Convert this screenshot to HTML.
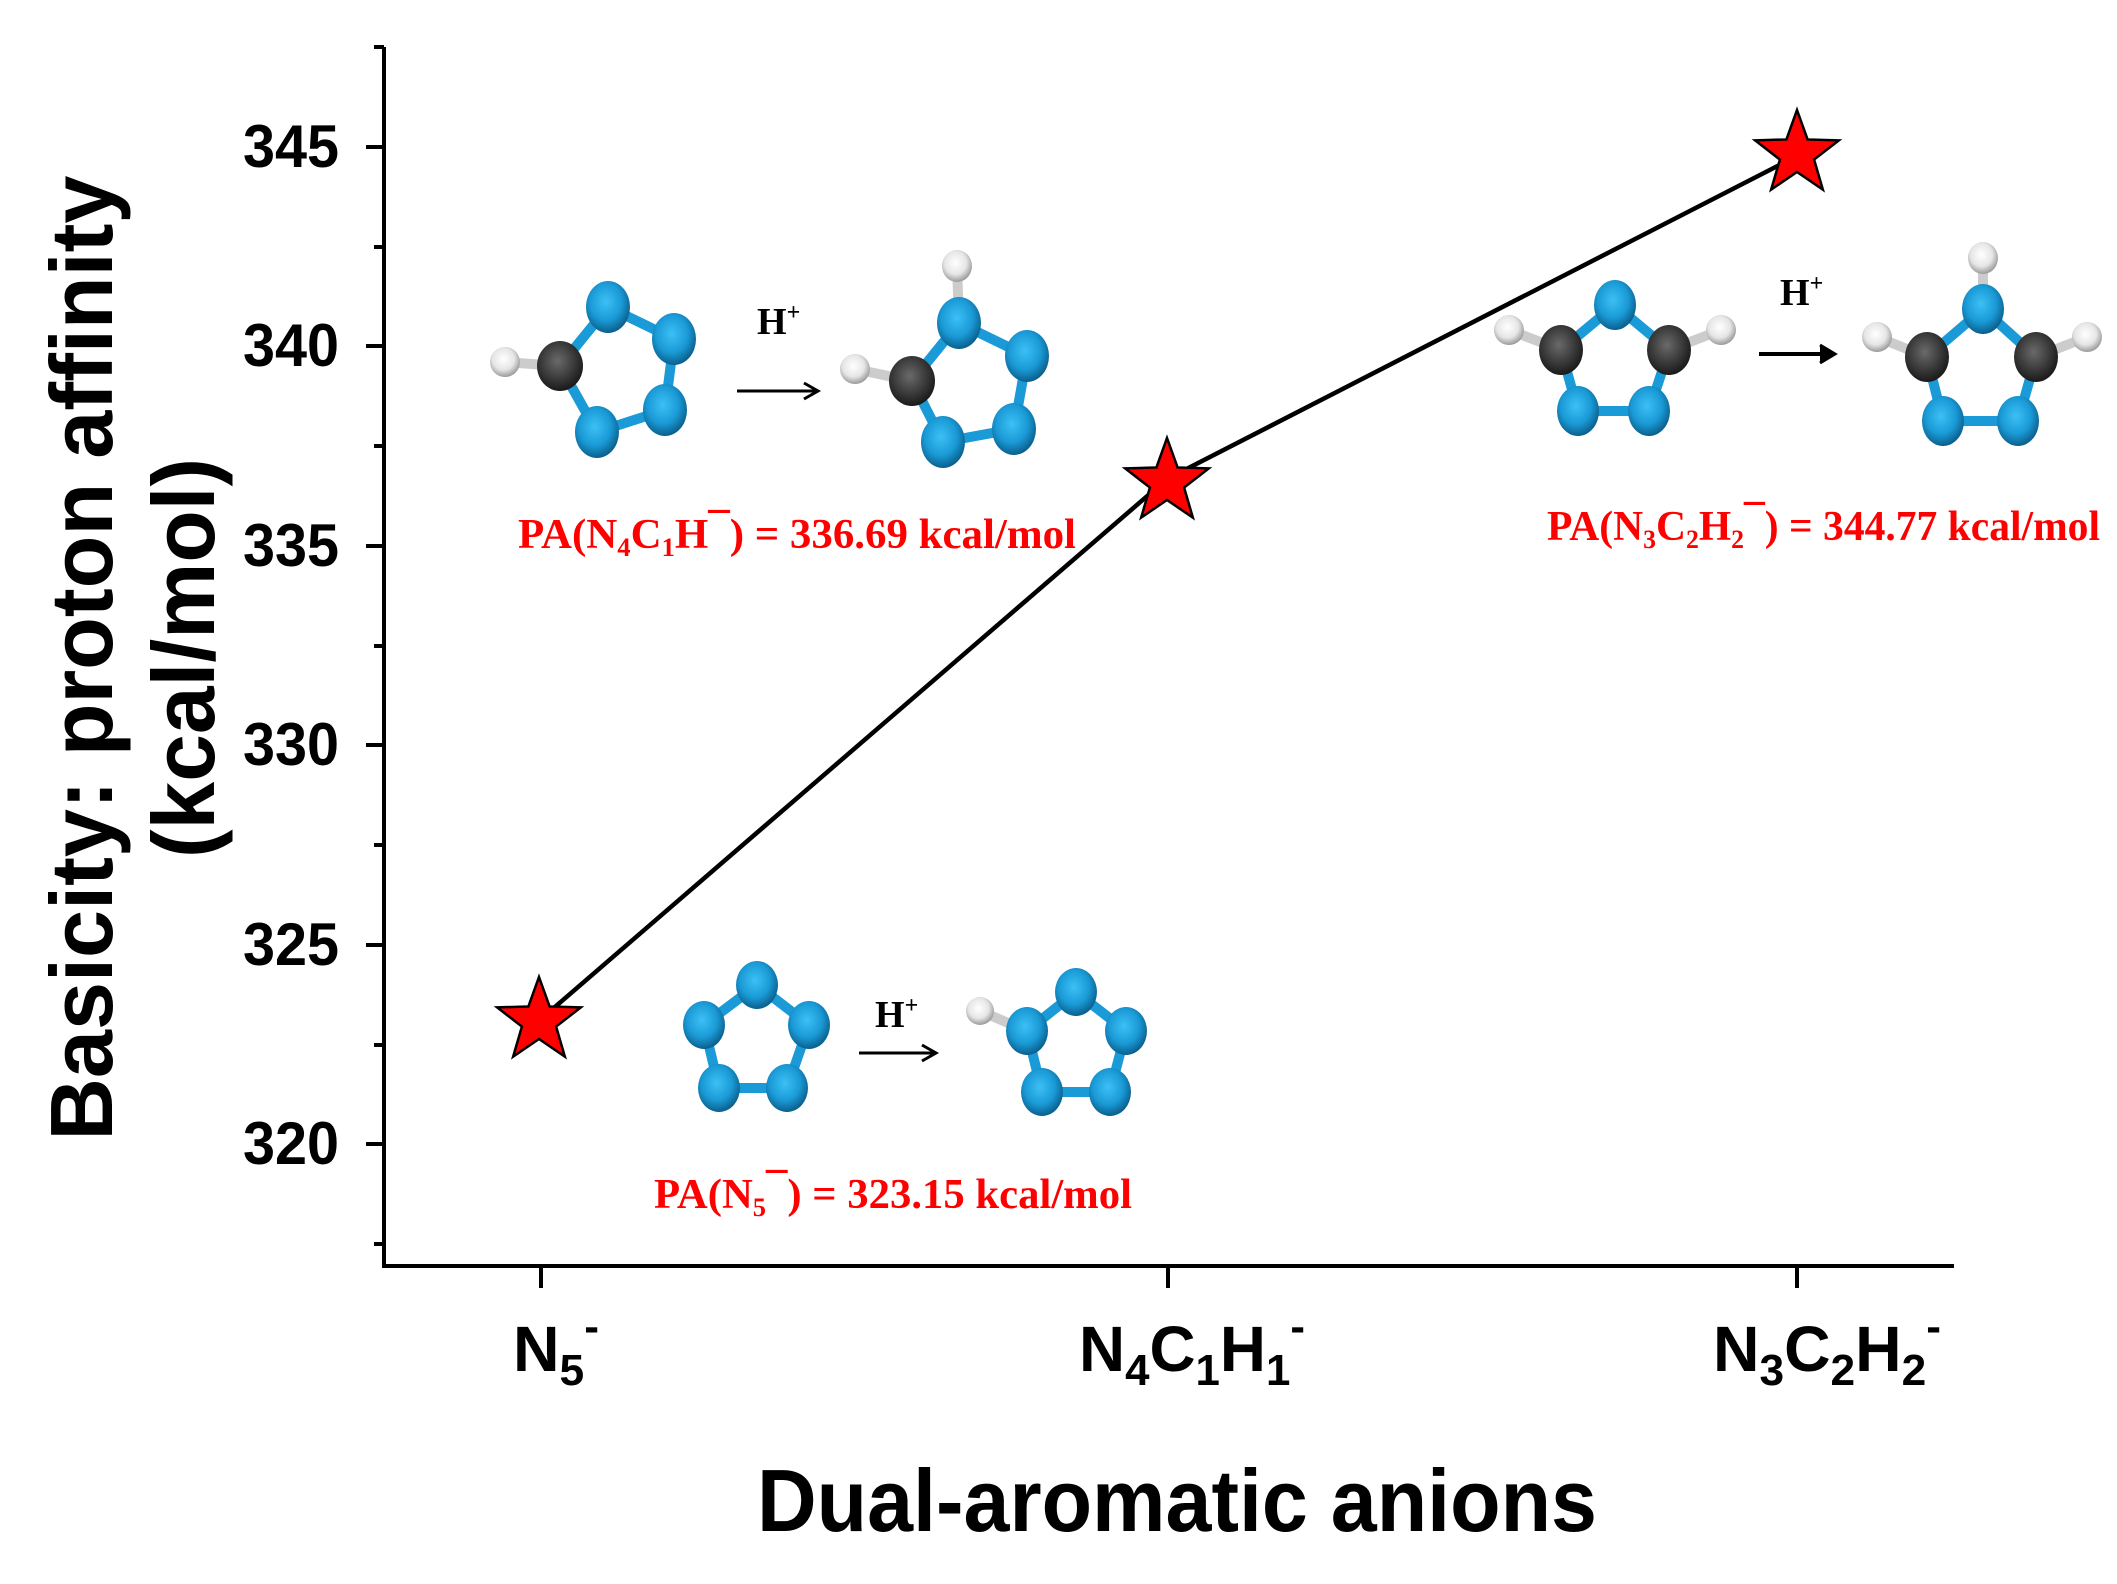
<!DOCTYPE html>
<html><head><meta charset="utf-8"><style>
html,body{margin:0;padding:0;background:#fff;}
svg{display:block;}
</style></head><body>
<svg width="2117" height="1584" viewBox="0 0 2117 1584" xmlns="http://www.w3.org/2000/svg">
<defs>
<radialGradient id="gN" cx="0.45" cy="0.4" r="0.6"><stop offset="0" stop-color="#3cc0f5"/><stop offset="0.6" stop-color="#1a9ad6"/><stop offset="1" stop-color="#0b5f8c"/></radialGradient>
<radialGradient id="gC" cx="0.45" cy="0.4" r="0.6"><stop offset="0" stop-color="#6a6a6a"/><stop offset="0.6" stop-color="#3a3a3a"/><stop offset="1" stop-color="#1a1a1a"/></radialGradient>
<radialGradient id="gH" cx="0.45" cy="0.4" r="0.6"><stop offset="0" stop-color="#ffffff"/><stop offset="0.6" stop-color="#e6e6e6"/><stop offset="1" stop-color="#9a9a9a"/></radialGradient>
<path id="star" d="M0,-44 L10.58,-14.56 L41.85,-13.6 L17.12,5.56 L25.86,35.6 L0,18 L-25.86,35.6 L-17.12,5.56 L-41.85,-13.6 L-10.58,-14.56 Z" fill="#ff0000" stroke="#000" stroke-width="2.5"/>
</defs>

<g stroke="#000" stroke-width="4" fill="none">
<line x1="384" y1="47" x2="384" y2="1268"/>
<line x1="382" y1="1266" x2="1954" y2="1266"/>
<line x1="366" y1="147" x2="384" y2="147"/>
<line x1="366" y1="346" x2="384" y2="346"/>
<line x1="366" y1="546" x2="384" y2="546"/>
<line x1="366" y1="745" x2="384" y2="745"/>
<line x1="366" y1="945" x2="384" y2="945"/>
<line x1="366" y1="1144" x2="384" y2="1144"/>
<line x1="374" y1="247" x2="384" y2="247"/>
<line x1="374" y1="446" x2="384" y2="446"/>
<line x1="374" y1="646" x2="384" y2="646"/>
<line x1="374" y1="845" x2="384" y2="845"/>
<line x1="374" y1="1045" x2="384" y2="1045"/>
<line x1="374" y1="1244" x2="384" y2="1244"/>
<line x1="374" y1="47" x2="384" y2="47"/>
<line x1="541" y1="1266" x2="541" y2="1288"/>
<line x1="1168" y1="1266" x2="1168" y2="1288"/>
<line x1="1797" y1="1266" x2="1797" y2="1288"/>
</g>

<g font-family="Liberation Sans, sans-serif" font-weight="bold" font-size="60" text-anchor="end" fill="#000">
<text x="339" y="167" textLength="96" lengthAdjust="spacingAndGlyphs">345</text>
<text x="339" y="366" textLength="96" lengthAdjust="spacingAndGlyphs">340</text>
<text x="339" y="566" textLength="96" lengthAdjust="spacingAndGlyphs">335</text>
<text x="339" y="765" textLength="96" lengthAdjust="spacingAndGlyphs">330</text>
<text x="339" y="965" textLength="96" lengthAdjust="spacingAndGlyphs">325</text>
<text x="339" y="1164" textLength="96" lengthAdjust="spacingAndGlyphs">320</text>
</g>

<g font-family="Liberation Sans, sans-serif" font-weight="bold" fill="#000" text-anchor="middle">
<text transform="translate(112,658) rotate(-90)" font-size="88" textLength="965" lengthAdjust="spacingAndGlyphs">Basicity: proton affinity</text>
<text transform="translate(214,658) rotate(-90)" font-size="88" textLength="400" lengthAdjust="spacingAndGlyphs">(kcal/mol)</text>
<text x="1177" y="1531" font-size="88" textLength="840" lengthAdjust="spacingAndGlyphs">Dual-aromatic anions</text>
</g>

<g font-family="Liberation Sans, sans-serif" font-weight="bold" fill="#000" font-size="64">
<text x="513" y="1371" textLength="86" lengthAdjust="spacingAndGlyphs">N<tspan font-size="44" dy="14">5</tspan><tspan font-size="44" dy="-44">-</tspan></text>
<text x="1079" y="1371" textLength="226" lengthAdjust="spacingAndGlyphs">N<tspan font-size="44" dy="14">4</tspan><tspan dy="-14">C</tspan><tspan font-size="44" dy="14">1</tspan><tspan dy="-14">H</tspan><tspan font-size="44" dy="14">1</tspan><tspan font-size="44" dy="-44">-</tspan></text>
<text x="1713" y="1371" textLength="228" lengthAdjust="spacingAndGlyphs">N<tspan font-size="44" dy="14">3</tspan><tspan dy="-14">C</tspan><tspan font-size="44" dy="14">2</tspan><tspan dy="-14">H</tspan><tspan font-size="44" dy="14">2</tspan><tspan font-size="44" dy="-44">-</tspan></text>
</g>

<polyline points="541,1019 1167,479 1797,156" fill="none" stroke="#000" stroke-width="4.5"/>
<use href="#star" x="539" y="1021"/>
<use href="#star" x="1167" y="482"/>
<use href="#star" x="1797" y="154"/>

<g font-family="Liberation Serif, serif" font-weight="bold" fill="#ff0000" font-size="42">
<text x="518" y="548" textLength="558" lengthAdjust="spacingAndGlyphs">PA(N<tspan font-size="26" dy="8">4</tspan><tspan dy="-8">C</tspan><tspan font-size="26" dy="8">1</tspan><tspan dy="-8">H</tspan><tspan dy="-6">¯</tspan><tspan dy="6">) = 336.69 kcal/mol</tspan></text>
<text x="1547" y="540" textLength="553" lengthAdjust="spacingAndGlyphs">PA(N<tspan font-size="26" dy="8">3</tspan><tspan dy="-8">C</tspan><tspan font-size="26" dy="8">2</tspan><tspan dy="-8">H</tspan><tspan font-size="26" dy="8">2</tspan><tspan dy="-14">¯</tspan><tspan dy="6">) = 344.77 kcal/mol</tspan></text>
<text x="654" y="1208" textLength="478" lengthAdjust="spacingAndGlyphs">PA(N<tspan font-size="26" dy="8">5</tspan><tspan dy="-14">¯</tspan><tspan dy="6">) = 323.15 kcal/mol</tspan></text>
</g>

<g font-family="Liberation Serif, serif" font-weight="bold" fill="#000" font-size="38">
<text x="757" y="334">H<tspan font-size="24" dy="-14">+</tspan></text>
<text x="1780" y="305">H<tspan font-size="24" dy="-14">+</tspan></text>
<text x="875" y="1027">H<tspan font-size="24" dy="-14">+</tspan></text>
</g>
<g stroke="#000" stroke-width="3" fill="none">
<line x1="737" y1="391" x2="816" y2="391"/><path d="M804,383 L818,391 L804,399"/>
<line x1="1759" y1="354" x2="1833" y2="354" stroke-width="4"/><path d="M1820,345 L1835,354 L1820,363" fill="#000"/>
<line x1="859" y1="1053" x2="934" y2="1053"/><path d="M922,1045 L936,1053 L922,1061"/>
</g>

<g stroke-width="10" stroke-linecap="round">
<line x1="505" y1="362" x2="560" y2="366" stroke="#ccc"/>
<line x1="560" y1="366" x2="608" y2="307" stroke="#1a9ad6"/>
<line x1="608" y1="307" x2="674" y2="339" stroke="#1a9ad6"/>
<line x1="674" y1="339" x2="665" y2="410" stroke="#1a9ad6"/>
<line x1="665" y1="410" x2="597" y2="432" stroke="#1a9ad6"/>
<line x1="597" y1="432" x2="560" y2="366" stroke="#1a9ad6"/>
</g>
<ellipse cx="505" cy="362" rx="15" ry="15" fill="url(#gH)"/>
<ellipse cx="560" cy="366" rx="23" ry="25" fill="url(#gC)"/>
<ellipse cx="608" cy="307" rx="22" ry="26" fill="url(#gN)"/>
<ellipse cx="674" cy="339" rx="22" ry="26" fill="url(#gN)"/>
<ellipse cx="665" cy="410" rx="22" ry="26" fill="url(#gN)"/>
<ellipse cx="597" cy="432" rx="22" ry="26" fill="url(#gN)"/>

<g stroke-width="10" stroke-linecap="round">
<line x1="957" y1="266" x2="959" y2="323" stroke="#ccc"/>
<line x1="855" y1="369" x2="912" y2="381" stroke="#ccc"/>
<line x1="912" y1="381" x2="959" y2="323" stroke="#1a9ad6"/>
<line x1="959" y1="323" x2="1027" y2="356" stroke="#1a9ad6"/>
<line x1="1027" y1="356" x2="1014" y2="429" stroke="#1a9ad6"/>
<line x1="1014" y1="429" x2="943" y2="442" stroke="#1a9ad6"/>
<line x1="943" y1="442" x2="912" y2="381" stroke="#1a9ad6"/>
</g>
<ellipse cx="957" cy="266" rx="15" ry="16" fill="url(#gH)"/>
<ellipse cx="855" cy="369" rx="15" ry="15" fill="url(#gH)"/>
<ellipse cx="912" cy="381" rx="23" ry="25" fill="url(#gC)"/>
<ellipse cx="959" cy="323" rx="22" ry="26" fill="url(#gN)"/>
<ellipse cx="1027" cy="356" rx="22" ry="26" fill="url(#gN)"/>
<ellipse cx="1014" cy="429" rx="22" ry="26" fill="url(#gN)"/>
<ellipse cx="943" cy="442" rx="22" ry="26" fill="url(#gN)"/>

<g stroke-width="10" stroke-linecap="round">
<line x1="1509" y1="330" x2="1561" y2="350" stroke="#ccc"/>
<line x1="1721" y1="330" x2="1669" y2="350" stroke="#ccc"/>
<line x1="1561" y1="350" x2="1615" y2="305" stroke="#1a9ad6"/>
<line x1="1615" y1="305" x2="1669" y2="350" stroke="#1a9ad6"/>
<line x1="1669" y1="350" x2="1649" y2="411" stroke="#1a9ad6"/>
<line x1="1649" y1="411" x2="1578" y2="411" stroke="#1a9ad6"/>
<line x1="1578" y1="411" x2="1561" y2="350" stroke="#1a9ad6"/>
</g>
<ellipse cx="1509" cy="330" rx="15" ry="15" fill="url(#gH)"/>
<ellipse cx="1721" cy="330" rx="15" ry="15" fill="url(#gH)"/>
<ellipse cx="1561" cy="350" rx="22" ry="25" fill="url(#gC)"/>
<ellipse cx="1669" cy="350" rx="22" ry="25" fill="url(#gC)"/>
<ellipse cx="1615" cy="305" rx="21" ry="25" fill="url(#gN)"/>
<ellipse cx="1578" cy="411" rx="21" ry="25" fill="url(#gN)"/>
<ellipse cx="1649" cy="411" rx="21" ry="25" fill="url(#gN)"/>

<g stroke-width="10" stroke-linecap="round">
<line x1="1983" y1="258" x2="1983" y2="309" stroke="#ccc"/>
<line x1="1877" y1="337" x2="1927" y2="357" stroke="#ccc"/>
<line x1="2087" y1="337" x2="2036" y2="357" stroke="#ccc"/>
<line x1="1927" y1="357" x2="1983" y2="309" stroke="#1a9ad6"/>
<line x1="1983" y1="309" x2="2036" y2="357" stroke="#1a9ad6"/>
<line x1="2036" y1="357" x2="2018" y2="421" stroke="#1a9ad6"/>
<line x1="2018" y1="421" x2="1943" y2="421" stroke="#1a9ad6"/>
<line x1="1943" y1="421" x2="1927" y2="357" stroke="#1a9ad6"/>
</g>
<ellipse cx="1983" cy="258" rx="15" ry="16" fill="url(#gH)"/>
<ellipse cx="1877" cy="337" rx="15" ry="15" fill="url(#gH)"/>
<ellipse cx="2087" cy="337" rx="15" ry="15" fill="url(#gH)"/>
<ellipse cx="1927" cy="357" rx="22" ry="25" fill="url(#gC)"/>
<ellipse cx="2036" cy="357" rx="22" ry="25" fill="url(#gC)"/>
<ellipse cx="1983" cy="309" rx="21" ry="25" fill="url(#gN)"/>
<ellipse cx="1943" cy="421" rx="21" ry="25" fill="url(#gN)"/>
<ellipse cx="2018" cy="421" rx="21" ry="25" fill="url(#gN)"/>

<g stroke-width="10" stroke-linecap="round" stroke="#1a9ad6">
<line x1="757" y1="985" x2="809" y2="1025"/>
<line x1="809" y1="1025" x2="787" y2="1088"/>
<line x1="787" y1="1088" x2="719" y2="1088"/>
<line x1="719" y1="1088" x2="704" y2="1025"/>
<line x1="704" y1="1025" x2="757" y2="985"/>
</g>
<ellipse cx="757" cy="985" rx="21" ry="24" fill="url(#gN)"/>
<ellipse cx="809" cy="1025" rx="21" ry="24" fill="url(#gN)"/>
<ellipse cx="787" cy="1088" rx="21" ry="24" fill="url(#gN)"/>
<ellipse cx="719" cy="1088" rx="21" ry="24" fill="url(#gN)"/>
<ellipse cx="704" cy="1025" rx="21" ry="24" fill="url(#gN)"/>

<g stroke-width="10" stroke-linecap="round" stroke="#1a9ad6">
<line x1="980" y1="1011" x2="1027" y2="1031" stroke="#ccc"/>
<line x1="1027" y1="1031" x2="1076" y2="992"/>
<line x1="1076" y1="992" x2="1126" y2="1031"/>
<line x1="1126" y1="1031" x2="1110" y2="1092"/>
<line x1="1110" y1="1092" x2="1042" y2="1092"/>
<line x1="1042" y1="1092" x2="1027" y2="1031"/>
</g>
<ellipse cx="980" cy="1011" rx="14" ry="14" fill="url(#gH)"/>
<ellipse cx="1027" cy="1031" rx="21" ry="24" fill="url(#gN)"/>
<ellipse cx="1076" cy="992" rx="21" ry="24" fill="url(#gN)"/>
<ellipse cx="1126" cy="1031" rx="21" ry="24" fill="url(#gN)"/>
<ellipse cx="1110" cy="1092" rx="21" ry="24" fill="url(#gN)"/>
<ellipse cx="1042" cy="1092" rx="21" ry="24" fill="url(#gN)"/>
</svg>
</body></html>
